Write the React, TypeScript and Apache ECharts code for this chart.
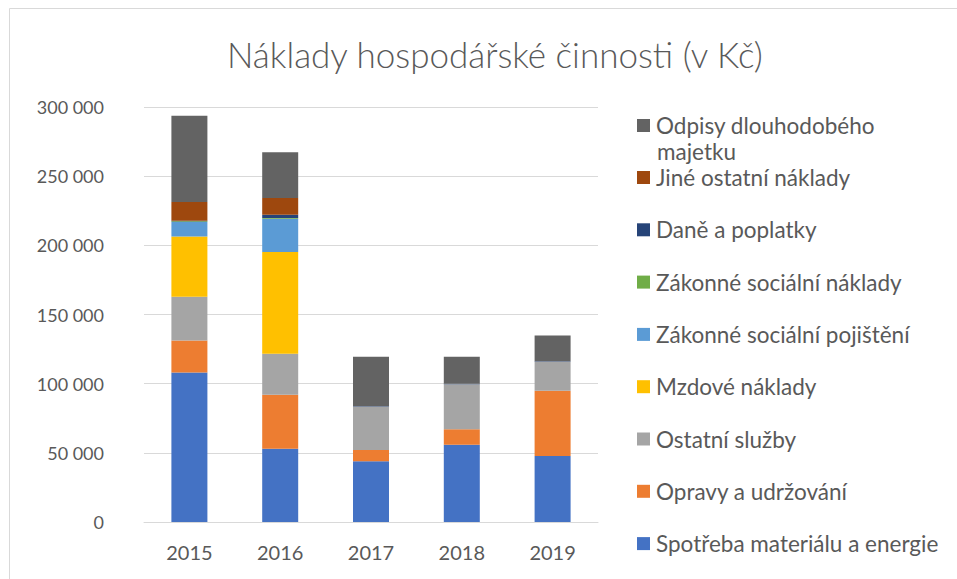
import React, { useEffect, useRef } from "react";
import * as echarts from "echarts";

const years = ["2015", "2016", "2017", "2018", "2019"];

const spotreba = [108000, 52900, 44000, 55800, 47800];
const opravy = [23200, 39100, 8000, 11200, 47100];
const ostatniSluzby = [31600, 29700, 31300, 32600, 21000];
const mzdove = [43500, 73500, 0, 0, 0];
const pojisteni = [10500, 24000, 0, 0, 0];
const socNaklady = [700, 500, 0, 0, 0];
const dane = [200, 2400, 300, 300, 300];
const jine = [13600, 12100, 0, 0, 0];
const odpisy = [62300, 33100, 35800, 19500, 18700];

const seriesDefs = [
  { name: "Spotřeba materiálu a energie", data: spotreba, color: "#4472C4" },
  { name: "Opravy a udržování", data: opravy, color: "#ED7D31" },
  { name: "Ostatní služby", data: ostatniSluzby, color: "#A5A5A5" },
  { name: "Mzdové náklady", data: mzdove, color: "#FFC000" },
  { name: "Zákonné sociální pojištění", data: pojisteni, color: "#5B9BD5" },
  { name: "Zákonné sociální náklady", data: socNaklady, color: "#70AD47" },
  { name: "Daně a poplatky", data: dane, color: "#264478" },
  { name: "Jiné ostatní náklady", data: jine, color: "#9E480E" },
  { name: "Odpisy dlouhodobého majetku", data: odpisy, color: "#636363" },
];

const FONT = "Lato, 'Open Sans', sans-serif";

export default function App() {
  const ref = useRef<HTMLDivElement>(null);
  useEffect(() => {
    if (!ref.current) return;
    const chart = echarts.init(ref.current, null, { renderer: "svg" });
    const others = seriesDefs.slice(0, 8).map((s) => s.name).reverse();
    chart.setOption({
      animation: false,
      backgroundColor: "#ffffff",
      textStyle: { fontFamily: FONT },
      title: {
        text: "Náklady hospodářské činnosti (v Kč)",
        left: 222,
        top: 31,
        textStyle: { fontFamily: FONT, fontSize: 35, fontWeight: 300, color: "#595959" },
      },
      graphic: [
        {
          type: "rect",
          shape: { x: 9.5, y: 8.5, width: 1200, height: 1200 },
          style: { fill: "none", stroke: "#D9D9D9", lineWidth: 1 },
          silent: true,
        },
        {
          type: "text",
          left: 657,
          top: 140,
          silent: true,
          style: {
            text: "majetku",
            fontFamily: FONT,
            fontSize: 22.5,
            lineHeight: 22,
            fill: "#595959",
          },
        },
      ],
      legend: [
        {
          data: ["Odpisy dlouhodobého majetku"],
          orient: "vertical",
          left: 637,
          top: 114,
          padding: 0,
          itemWidth: 13,
          itemHeight: 13,
          itemGap: 0,
          icon: "rect",
          formatter: () => "Odpisy dlouhodobého",
          textStyle: {
            fontFamily: FONT,
            fontSize: 22.5,
            color: "#595959",
            lineHeight: 22,
            padding: [0, 0, 0, 1],
          },
          selectedMode: false,
        },
        {
          data: others,
          orient: "vertical",
          left: 637,
          top: 166,
          padding: 0,
          itemWidth: 13,
          itemHeight: 13,
          itemGap: 29.3,
          icon: "rect",
          textStyle: {
            fontFamily: FONT,
            fontSize: 22.5,
            color: "#595959",
            lineHeight: 22,
            padding: [0, 0, 0, 1],
          },
          selectedMode: false,
        },
      ],
      grid: { left: 144, right: 359, top: 107, bottom: 57, containLabel: false },
      xAxis: {
        type: "category",
        data: years,
        axisLine: { lineStyle: { color: "#D9D9D9", width: 1 } },
        axisTick: { show: false },
        axisLabel: { fontFamily: FONT, fontSize: 20, color: "#595959", margin: 20 },
      },
      yAxis: {
        type: "value",
        min: 0,
        max: 300000,
        interval: 50000,
        axisLine: { show: false },
        axisTick: { show: false },
        splitLine: { lineStyle: { color: "#D9D9D9", width: 1 } },
        axisLabel: {
          fontFamily: FONT,
          fontSize: 18,
          color: "#595959",
          margin: 40,
          formatter: (v: number) => String(v).replace(/\B(?=(\d{3})+(?!\d))/g, " "),
        },
      },
      series: seriesDefs.map((s) => ({
        name: s.name,
        type: "bar",
        stack: "total",
        data: s.data,
        barWidth: 36,
        itemStyle: { color: s.color },
      })),
    });
    return () => chart.dispose();
  }, []);
  return (
    <div
      ref={ref}
      style={{ position: "fixed", left: 0, top: 0, width: 957, height: 579 }}
    />
  );
}
